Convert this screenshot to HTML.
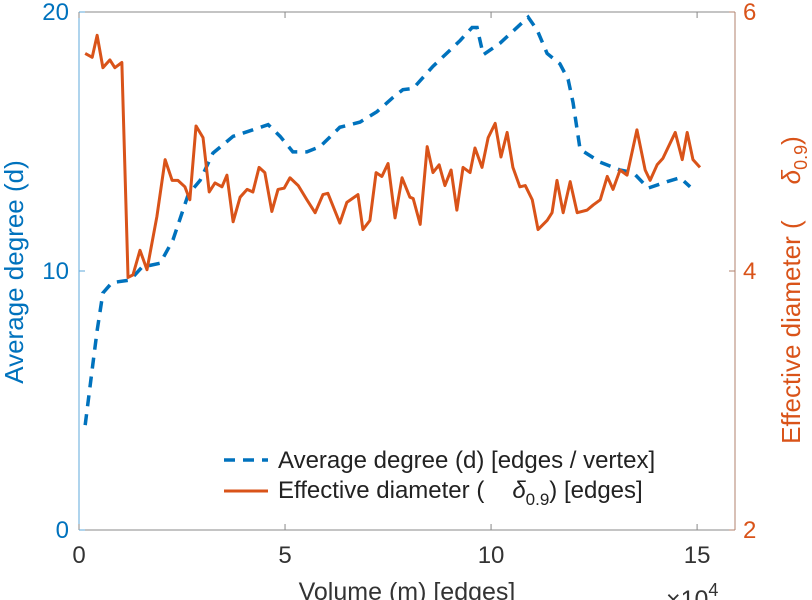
<!DOCTYPE html>
<html><head><meta charset="utf-8"><style>
body{margin:0;background:#fff;position:relative;width:812px;height:600px;overflow:hidden}
svg{display:block;font-family:"Liberation Sans",sans-serif}
</style></head><body>
<svg id="chart" width="812" height="600" viewBox="0 0 812 600" xmlns="http://www.w3.org/2000/svg"></svg>
<script>
const degX=[0.15,0.32,0.44,0.58,0.8,1.24,1.53,1.97,2.28,2.65,2.94,3.25,3.74,4.22,4.59,4.88,5.19,5.53,5.85,6.33,6.82,7.23,7.62,7.86,8.11,8.59,9.25,9.54,9.66,9.81,10.22,10.9,11.12,11.36,11.67,11.87,11.99,12.16,12.65,13.13,13.45,13.81,14.27,14.59,14.83];
const degY=[4.05,6.2,7.7,9.15,9.55,9.65,10.15,10.3,11.2,12.95,13.5,14.55,15.2,15.45,15.65,15.2,14.6,14.6,14.8,15.55,15.75,16.15,16.7,17.0,17.05,17.9,18.9,19.4,19.4,18.35,18.8,19.8,19.3,18.4,18.0,17.4,16.5,14.7,14.2,13.9,13.8,13.2,13.45,13.6,13.25];
const diaX=[0.15,0.32,0.44,0.58,0.75,0.87,1.04,1.19,1.31,1.48,1.65,1.89,2.09,2.26,2.40,2.57,2.69,2.84,3.01,3.16,3.30,3.47,3.59,3.74,3.91,4.08,4.22,4.37,4.51,4.68,4.83,4.98,5.12,5.32,5.53,5.73,5.92,6.04,6.33,6.50,6.77,6.89,7.06,7.21,7.35,7.50,7.67,7.84,8.03,8.11,8.28,8.45,8.59,8.74,8.88,9.03,9.17,9.32,9.49,9.61,9.78,9.93,10.10,10.24,10.39,10.53,10.70,10.83,11.0,11.14,11.36,11.48,11.6,11.75,11.92,12.09,12.33,12.48,12.65,12.82,12.96,13.13,13.3,13.54,13.74,13.86,14.03,14.17,14.47,14.64,14.76,14.90,15.07];
const diaY=[5.68,5.65,5.82,5.57,5.63,5.57,5.61,3.95,3.97,4.16,4.01,4.42,4.86,4.70,4.70,4.65,4.55,5.12,5.03,4.61,4.68,4.65,4.74,4.38,4.57,4.63,4.61,4.80,4.76,4.46,4.63,4.64,4.72,4.66,4.55,4.45,4.59,4.60,4.37,4.53,4.59,4.32,4.39,4.76,4.73,4.83,4.41,4.72,4.57,4.56,4.36,4.96,4.76,4.82,4.66,4.78,4.47,4.80,4.76,4.95,4.80,5.03,5.14,4.88,5.07,4.80,4.65,4.66,4.55,4.32,4.39,4.45,4.70,4.45,4.69,4.45,4.47,4.51,4.55,4.73,4.63,4.78,4.74,5.09,4.78,4.70,4.82,4.87,5.07,4.86,5.07,4.86,4.80];
const xTicks=[0,5,10,15];
const yLTicks=[0,10,20];
const yRTicks=[2,4,6];

const L=79,R=735,T=12,B=530,XMAX=15.92;
const sx=v=>L+v/XMAX*(R-L);
const syL=v=>B-v/20*(B-T);
const syR=v=>B-(v-2)/4*(B-T);
const NS="http://www.w3.org/2000/svg";
const svg=document.getElementById('chart');
function mk(tag,attrs,parent){const e=document.createElementNS(NS,tag);for(const k in attrs)e.setAttribute(k,attrs[k]);(parent||svg).appendChild(e);return e;}

let e;
e=mk('line',{x1:L,y1:T,x2:R,y2:T,stroke:'#888',"stroke-width":1});


e=mk('line',{x1:L,y1:B,x2:R,y2:B,stroke:'#888',"stroke-width":1});


e=mk('line',{x1:L,y1:T,x2:L,y2:B,stroke:'#5fa8db',"stroke-width":1});


e=mk('line',{x1:R,y1:T,x2:R,y2:B,stroke:'#b0806c',"stroke-width":1});



xTicks.forEach(v=>{
  const x=sx(v);
  mk('line',{x1:x,y1:B,x2:x,y2:B-6,stroke:'#888'});
  mk('line',{x1:x,y1:T,x2:x,y2:T+6,stroke:'#888'});
  const t=mk('text',{x:x,y:B+33,"text-anchor":"middle","font-size":24,fill:'#333'});
  t.textContent=v;
  
  
});
yLTicks.forEach(v=>{
  const y=syL(v);
  mk('line',{x1:L,y1:y,x2:L+6,y2:y,stroke:'#5fa8db'});
  const t=mk('text',{x:L-10,y:y+8,"text-anchor":"end","font-size":24,fill:'#0072BD'});
  t.textContent=v;
  
  
});
yRTicks.forEach(v=>{
  const y=syR(v);
  mk('line',{x1:R,y1:y,x2:R-6,y2:y,stroke:'#b0806c'});
  const t=mk('text',{x:R+8,y:y+8,"text-anchor":"start","font-size":24,fill:'#D95319'});
  t.textContent=v;
  
  
});

const dPts=degX.map((x,i)=>sx(x)+','+syL(degY[i])).join(' ');
e=mk('polyline',{points:dPts,fill:'none',stroke:'#0072BD',"stroke-width":3.5,"stroke-dasharray":"11,8"});


const oPts=diaX.map((x,i)=>sx(x)+','+syR(diaY[i])).join(' ');
e=mk('polyline',{points:oPts,fill:'none',stroke:'#D95319',"stroke-width":3,"stroke-linejoin":"round"});



e=mk('line',{x1:224,y1:460,x2:268,y2:460,stroke:'#0072BD',"stroke-width":3.5,"stroke-dasharray":"11,8"});


e=mk('line',{x1:224,y1:491,x2:268,y2:491,stroke:'#D95319',"stroke-width":3});


</script>
<svg style="position:absolute;left:0;top:0" width="812" height="600">
<text x="278" y="468" font-size="24" fill="#222" font-family="Liberation Sans,sans-serif">Average degree (d) [edges / vertex]</text>
<text x="278" y="498" font-size="24" fill="#222" font-family="Liberation Sans,sans-serif">Effective diameter (<tspan dx="28" font-style="italic">δ</tspan><tspan font-size="17" dy="7">0.9</tspan><tspan dy="-7">) [edges]</tspan></text>
<text x="407" y="600" text-anchor="middle" font-size="25" fill="#333" font-family="Liberation Sans,sans-serif">Volume (m) [edges]</text>
<text x="666" y="608" font-size="25" fill="#333" font-family="Liberation Sans,sans-serif">×10<tspan dy="-12" font-size="18">4</tspan></text>
<text transform="translate(23,272) rotate(-90)" text-anchor="middle" font-size="26" fill="#0072BD" font-family="Liberation Sans,sans-serif">Average degree (d)</text>
<text transform="translate(800,290) rotate(-90)" text-anchor="middle" font-size="26" fill="#D95319" font-family="Liberation Sans,sans-serif">Effective diameter (<tspan dx="36" font-style="italic">δ</tspan><tspan font-size="18" dy="7">0.9</tspan><tspan dy="-7">)</tspan></text>
</svg>
</body></html>
